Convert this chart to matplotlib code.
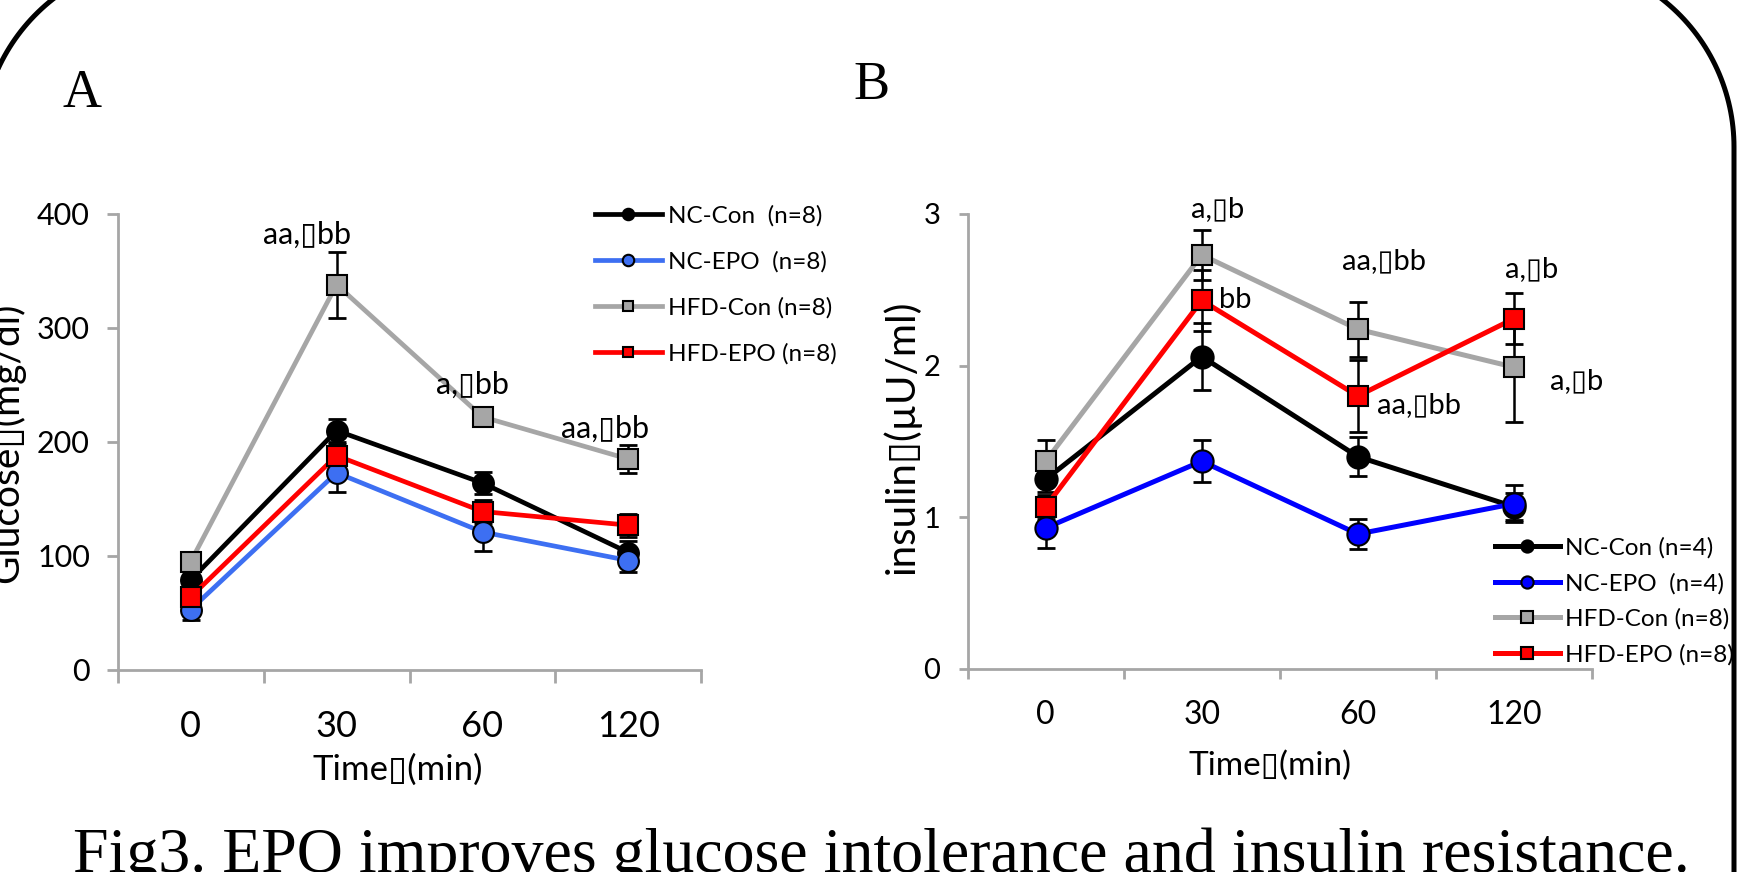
import numpy as np
import matplotlib
matplotlib.use('Agg')
import matplotlib.pyplot as plt
from matplotlib.lines import Line2D
from matplotlib.transforms import IdentityTransform

plt.rcParams['font.family'] = ['Lato', 'DejaVu Sans']

times = ['0', '30', '60', '120']
groups_a = ['NC-Con  (n=8)', 'NC-EPO  (n=8)', 'HFD-Con (n=8)', 'HFD-EPO (n=8)']
groups_b = ['NC-Con (n=4)', 'NC-EPO  (n=4)', 'HFD-Con (n=8)', 'HFD-EPO (n=8)']

# glucose (mg/dl), mean and error
glu_nc_con = [79, 210, 164, 103]
glu_nc_con_err = [8, 10, 10, 10]
glu_nc_epo = [53, 173, 121, 96]
glu_nc_epo_err = [9, 17, 17, 10]
glu_hfd_con = [95, 338, 222, 185]
glu_hfd_con_err = [8, 29, 8, 12]
glu_hfd_epo = [64, 188, 139, 127]
glu_hfd_epo_err = [8, 10, 10, 10]

# insulin (uU/ml)
ins_nc_con = [1.25, 2.06, 1.40, 1.07]
ins_nc_con_err = [0.08, 0.22, 0.13, 0.09]
ins_nc_epo = [0.93, 1.37, 0.89, 1.09]
ins_nc_epo_err = [0.13, 0.14, 0.10, 0.12]
ins_hfd_con = [1.37, 2.73, 2.24, 1.99]
ins_hfd_con_err = [0.14, 0.165, 0.18, 0.36]
ins_hfd_epo = [1.07, 2.43, 1.80, 2.31]
ins_hfd_epo_err = [0.08, 0.20, 0.24, 0.17]

# significance marks (x, y, text, ha)
marks_a = [(0.80, 382, 'aa,▯bb', 'center'),
           (1.93, 250, 'a,▯bb', 'center'),
           (2.84, 212, 'aa,▯bb', 'center')]
marks_b = [(1.10, 3.03, 'a,▯b', 'center'),
           (1.11, 2.43, 'bb', 'left'),
           (2.17, 2.69, 'aa,▯bb', 'center'),
           (3.11, 2.64, 'a,▯b', 'center'),
           (2.39, 1.74, 'aa,▯bb', 'center'),
           (3.40, 1.90, 'a,▯b', 'center')]

axis_gray = '#a6a6a6'
x = np.arange(len(times))

fig = plt.figure(figsize=(17.57, 8.72), dpi=100)
axA = fig.add_axes([0.0670, 0.2317, 0.3322, 0.5229])
axB = fig.add_axes([0.5507, 0.2328, 0.3554, 0.5218])


def style(ax, ymax, yticks, xfs, yfs, xpad, ypad, xlen, ylen):
    for s in ['top', 'right']:
        ax.spines[s].set_visible(False)
    for s in ['left', 'bottom']:
        ax.spines[s].set_color(axis_gray)
        ax.spines[s].set_linewidth(2)
    ax.set_xlim(-0.5, 3.5)
    ax.set_ylim(0, ymax)
    ax.set_xticks(np.arange(-0.5, 4, 1))
    ax.set_xticklabels([])
    ax.set_xticks(x, minor=True)
    ax.set_xticklabels(times, minor=True, fontsize=xfs)
    ax.tick_params(axis='x', which='major', length=xlen, width=2, color=axis_gray)
    ax.tick_params(axis='x', which='minor', length=0, pad=xpad)
    ax.set_yticks(yticks)
    ax.tick_params(axis='y', length=ylen, width=2, color=axis_gray, pad=ypad, labelsize=yfs)


def draw(ax, series, lw):
    lines = []
    for vals, errs, color, marker, ms in series:
        ax.errorbar(x, vals, yerr=errs, fmt='none', ecolor='black',
                    elinewidth=1.8, capsize=6.5, capthick=2, zorder=2)
        ln, = ax.plot(x, vals, color=color, lw=lw, marker=marker, ms=ms,
                      mfc=color, mec='black', mew=1.5, zorder=3)
        lines.append(ln)
    return lines


series_a = [(glu_nc_con, glu_nc_con_err, 'black', 'o', 15),
            (glu_nc_epo, glu_nc_epo_err, '#3d6ff2', 'o', 15),
            (glu_hfd_con, glu_hfd_con_err, '#a6a6a6', 's', 14),
            (glu_hfd_epo, glu_hfd_epo_err, '#ff0000', 's', 14)]
series_b = [(ins_nc_con, ins_nc_con_err, 'black', 'o', 16),
            (ins_nc_epo, ins_nc_epo_err, '#0000ff', 'o', 16),
            (ins_hfd_con, ins_hfd_con_err, '#a6a6a6', 's', 15),
            (ins_hfd_epo, ins_hfd_epo_err, '#ff0000', 's', 15)]

lines_a = draw(axA, series_a, 3.4)
lines_b = draw(axB, series_b, 3.6)

style(axA, 400, [0, 100, 200, 300, 400], 26, 22, 29, 12, 9.4, 8)
style(axB, 3, [0, 1, 2, 3], 23, 21, 22, 13, 7, 6.5)

axA.set_xlabel('Time▯(min)', fontsize=25)
axA.xaxis.set_label_coords(0.48, -0.183)
axA.set_ylabel('Glucose▯(mg/dl)', fontsize=28)
axA.yaxis.set_label_coords(-0.159, 0.498)

axB.set_xlabel('Time▯(min)', fontsize=24)
axB.xaxis.set_label_coords(0.485, -0.18)
axB.set_ylabel('insulin▯(µU/ml)', fontsize=29)
axB.yaxis.set_label_coords(-0.075, 0.51)

for xx, yy, t, ha in marks_a:
    axA.text(xx, yy, t, fontsize=22, ha=ha, va='center')
for xx, yy, t, ha in marks_b:
    axB.text(xx, yy, t, fontsize=21, ha=ha, va='center')

axA.legend(lines_a, groups_a, loc='upper left', bbox_to_anchor=(0.3386, 0.7646),
           bbox_transform=fig.transFigure, frameon=False, fontsize=17.5,
           handlelength=2.75, handletextpad=0.25, labelspacing=1.0,
           borderpad=0, borderaxespad=0, markerscale=0.55)
axB.legend(lines_b, groups_b, loc='upper left', bbox_to_anchor=(0.8509, 0.384),
           bbox_transform=fig.transFigure, frameon=False, fontsize=17.5,
           handlelength=2.67, handletextpad=0.2, labelspacing=0.58,
           borderpad=0, borderaxespad=0, markerscale=0.55)

fig.text(0.0353, 0.8773, 'A', family='Liberation Serif', fontsize=39, va='baseline')
fig.text(0.486, 0.8865, 'B', family='Liberation Serif', fontsize=39, va='baseline')
fig.text(0.0415, 0.0005, 'Fig3. EPO improves glucose intolerance and insulin resistance.',
         family='Liberation Serif', fontsize=46, va='baseline')

# rounded frame (pixel coords, y up), partly outside the picture
R = 188
left, right, top = -19, 1734, 913
t_l = np.linspace(np.pi, np.pi / 2, 60)
t_r = np.linspace(np.pi / 2, 0, 60)
fx = np.concatenate([[left], left + R + R * np.cos(t_l), right - R + R * np.cos(t_r), [right]])
fy = np.concatenate([[-50], top - R + R * np.sin(t_l), top - R + R * np.sin(t_r), [-50]])
fig.add_artist(Line2D(fx, fy, transform=IdentityTransform(), color='black', lw=3.6))

fig.savefig('out.png', dpi=100)
